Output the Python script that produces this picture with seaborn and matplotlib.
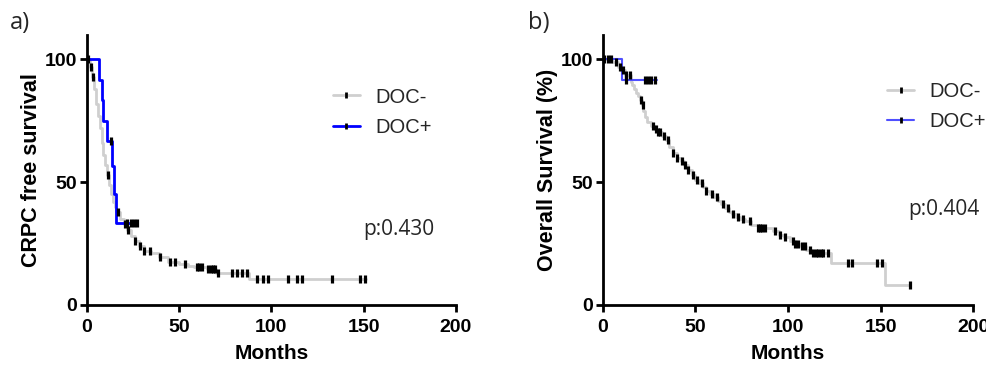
import numpy as np
import pandas as pd
import seaborn as sns
import matplotlib.pyplot as plt
from matplotlib.lines import Line2D

# Panel a: CRPC free survival, step curves (months, %)
a_neg_t = [0, 1.5, 3, 4, 5, 6, 7, 8, 9, 10, 11, 12, 13, 14, 15, 16, 18, 20, 22, 24, 26, 28, 31, 35, 39, 44, 50, 55, 58, 65, 70, 88, 151]
a_neg_s = [100, 97, 93, 88, 82, 77, 72, 66, 61, 57, 53, 49, 45, 42, 40, 38, 35, 33, 30.5, 28, 26, 24, 22, 21, 19.5, 17.5, 16.5, 16, 15.5, 14.5, 13, 10.5, 10.5]
a_neg_cens = [0.5, 2.2, 3.4, 11.5, 17, 20.6, 22.4, 26, 28.7, 31, 34, 39.6, 45, 48, 53, 59.6, 61, 62.3, 65.6, 67, 68.5, 69.4, 71,
              78.6, 81.3, 84, 86.7, 92, 95.6, 98.3, 109, 113.7, 116.4, 132.6, 148, 150.7]

a_pos_t = [0, 6.5, 8, 9, 11, 13.5, 14.5, 16, 27]
a_pos_s = [100, 91.7, 83.3, 75, 66.7, 56.5, 45, 33.3, 33.3]
a_pos_cens = [13, 22, 24, 25.5, 27]

# Panel b: overall survival
b_neg_t = [0, 5, 8, 10, 12, 15, 16, 17, 18, 19, 20, 21, 22, 23, 24, 26, 28, 30, 32, 34, 36, 38, 40, 42, 44, 46, 48, 50, 52, 54,
           56, 58, 60, 62, 64, 66, 68, 70, 72, 74, 77, 80, 84, 92, 95, 98, 101, 104, 107, 110, 113, 123, 152.5, 166]
b_neg_s = [100, 99, 97, 95.5, 93.5, 91, 89.5, 88, 86.5, 85, 83.5, 81.5, 79, 76.5, 74.5, 73, 71.5, 70.5, 69, 67, 64.5, 62, 60, 58.5, 57,
           55, 53, 51, 49.5, 48, 46.5, 45, 44, 42.5, 41, 39.5, 38, 37, 36, 35, 34, 32.5, 31.5, 30, 28.5, 27.5, 26, 25, 24, 22.5, 21, 17, 8.2, 8.2]
b_neg_cens = [0.5, 2.9, 4.6, 7.3, 9.2, 11, 12.6, 14.6, 20.9, 21.8, 27.3, 28.5, 30, 31, 33, 35, 38, 40, 42.7, 44.4, 46.2, 49, 51, 53.5,
              56, 58.9, 61.6, 65.1, 67.8, 70.5, 73.3, 75.9, 79.6, 84, 85, 86, 87.7, 93, 95.8, 98.5, 103, 104, 105.5, 107.5, 109.3,
              112, 113.7, 115, 116.5, 118, 119, 121.7, 132.5, 134.5, 148, 150.7, 166]

b_pos_t = [0, 10.4, 29.5]
b_pos_s = [100, 91.8, 91.8]
b_pos_cens = [12.5, 22.7, 24.5, 26.2, 28.4]

labels = ["DOC-", "DOC+"]
gray = "#cfcfcf"

sns.set_style("ticks")
plt.rcParams["font.family"] = ["Liberation Sans", "DejaVu Sans"]
sans2 = ["Open Sans", "DejaVu Sans"]


def step_value(t, s, x):
    # value of the KM step curve at time x
    idx = np.searchsorted(t, x, side="right") - 1
    return np.asarray(s)[idx]


def km(ax, t, s, cens, color, lw):
    sns.lineplot(x=t, y=s, ax=ax, color=color, linewidth=lw, drawstyle="steps-post", estimator=None, sort=False)
    cy = step_value(t, s, cens)
    sns.scatterplot(x=cens, y=cy, ax=ax, marker="|", color="black", s=30, linewidth=2.3, zorder=5)


fig = plt.figure(figsize=(9.87, 3.66), dpi=100)
ax1 = fig.add_axes([0.088, 0.1667, 0.374, 0.738])
ax2 = fig.add_axes([0.6107, 0.1667, 0.3752, 0.738])

panels = [
    (ax1, a_neg_t, a_neg_s, a_neg_cens, a_pos_t, a_pos_s, a_pos_cens, "#0000ff", 2.0, "CRPC free survival", "p:0.430", (0.646, 0.835), (0.748, 0.281)),
    (ax2, b_neg_t, b_neg_s, b_neg_cens, b_pos_t, b_pos_s, b_pos_cens, "#4f4fff", 1.5, "Overall Survival (%)", "p:0.404", (0.747, 0.855), (0.824, 0.352)),
]

for ax, nt, ns, nc, pt, ps, pc, blue, blw, ylab, ptxt, leg_xy, p_xy in panels:
    km(ax, nt, ns, nc, gray, 2.0)
    km(ax, pt, ps, pc, blue, blw)

    ax.set_xlim(0, 200)
    ax.set_ylim(0, 110)
    ax.set_xticks([0, 50, 100, 150, 200])
    ax.set_yticks([0, 50, 100])
    sns.despine(ax=ax)
    for sp in ["left", "bottom"]:
        ax.spines[sp].set_linewidth(2)
        ax.spines[sp].set_color("black")
    ax.tick_params(axis="both", length=5, width=2, color="black", pad=2)
    ax.tick_params(axis="x", pad=5)
    for lab in ax.get_xticklabels() + ax.get_yticklabels():
        lab.set_fontweight("bold")
        lab.set_fontsize(14)
        lab.set_color("black")
    ax.set_xlabel("Months", fontweight="bold", fontsize=15, labelpad=6, color="black")
    ax.set_ylabel(ylab, fontweight="bold", fontsize=15.5, labelpad=2, color="black")

    handles = [
        Line2D([], [], color=gray, lw=2, marker="|", markeredgecolor="black", markersize=5, mew=2),
        Line2D([], [], color=blue, lw=blw, marker="|", markeredgecolor="black", markersize=5, mew=2),
    ]
    ax.legend(handles, labels, loc="upper left", bbox_to_anchor=leg_xy, frameon=False,
              prop={"family": ["Liberation Sans"], "size": 14.5},
              handlelength=1.3, handletextpad=0.8, labelspacing=0.55, numpoints=1, borderaxespad=0)

    ax.text(p_xy[0], p_xy[1], ptxt, transform=ax.transAxes, family=sans2, fontsize=15, va="center")

fig.text(0.010, 0.937, "a)", family=sans2, fontsize=17, va="center")
fig.text(0.535, 0.937, "b)", family=sans2, fontsize=17, va="center")

fig.savefig("out.png", dpi=100)
